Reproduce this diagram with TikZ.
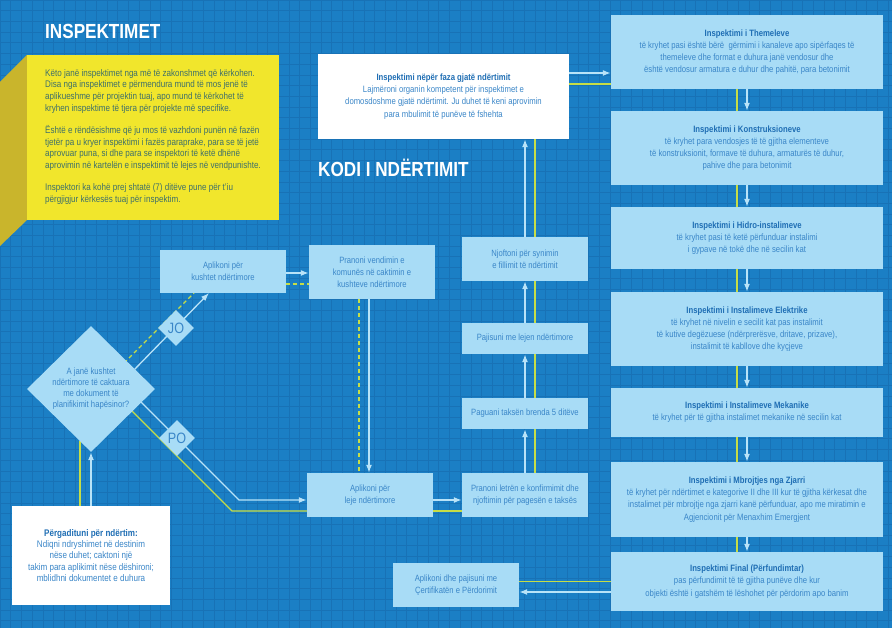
\documentclass[tikz,border=0pt]{standalone}
\usepackage{fontspec}
\setmainfont{Liberation Sans}[FakeStretch=0.84]
\usetikzlibrary{arrows.meta,shapes.geometric,calc}
\definecolor{bgc}{HTML}{1B7FC5}
\definecolor{gridc}{HTML}{1872B6}
\definecolor{lboxc}{HTML}{A8DCF6}
\definecolor{txtc}{HTML}{3A86C8}
\definecolor{ttlc}{HTML}{1F6EB4}
\definecolor{linec}{HTML}{B9E3F8}
\definecolor{grn}{HTML}{C6DD46}
\definecolor{yel}{HTML}{F1E62C}
\definecolor{olive}{HTML}{C9B52C}
\definecolor{ytxt}{HTML}{3E6F6A}
\pgfdeclarelayer{bgl}
\pgfdeclarelayer{lns}
\pgfsetlayers{bgl,lns,main}
\newcommand{\ttl}[1]{{\bfseries\color{ttlc}#1}}
\begin{document}
\begin{tikzpicture}[x=1pt,y=-1pt,
  lbox/.style={rectangle,fill=lboxc,text=txtc,align=center,inner sep=0pt},
  wbox/.style={rectangle,fill=white,text=txtc,align=center,inner sep=0pt},
  rfont/.style={font=\fontsize{9.2}{12.2}\selectfont},
  mfont/.style={font=\fontsize{9.1}{12}\selectfont},
  arr/.style={draw=linec,line width=1.3pt,-{Latex[length=8pt,width=6pt]}},
  wline/.style={draw=linec,line width=1.3pt},
  gline/.style={draw=grn,line width=1.1pt},
  gdash/.style={draw=grn,line width=1.1pt,dash pattern=on 4pt off 3pt},
  dia/.style={diamond,fill=lboxc,inner sep=0pt,aspect=1},
  heading/.style={font=\fontsize{20.4}{22}\selectfont\bfseries,text=white,inner sep=0pt,anchor=west}]
\useasboundingbox (0,0) rectangle (892,628);
\begin{pgfonlayer}{bgl}
\fill[bgc] (0,0) rectangle (892,628);
\foreach \i in {0,...,84} { \draw[gridc,line width=0.6pt] (\i*10.7,0) -- (\i*10.7,628); }
\foreach \j in {0,...,59} { \draw[gridc,line width=0.6pt] (0,\j*10.7) -- (892,\j*10.7); }
\end{pgfonlayer}

% headings
\node[heading] (h1) at (45,31) {INSPEKTIMET};
\node[heading] (h2) at (318,168) {KODI I NDËRTIMIT};

% yellow panel
\fill[olive] (27,55) -- (0,82) -- (0,246) -- (27,220) -- cycle;
\fill[yel] (27,55) rectangle (279,220);
\node[anchor=north west,inner sep=0pt,align=left,text=ytxt,font=\fontsize{9.6}{11.8}\selectfont] (ytext) at (45,69)
{Këto janë inspektimet nga më të zakonshmet që kërkohen.\\
Disa nga inspektimet e përmendura mund të mos jenë të\\
aplikueshme për projektin tuaj, apo mund të kërkohet të\\
kryhen inspektime të tjera për projekte më specifike.\\[10pt]
Është e rëndësishme që ju mos të vazhdoni punën në fazën\\
tjetër pa u kryer inspektimi i fazës paraprake, para se të jetë\\
aprovuar puna, si dhe para se inspektori të ketë dhënë\\
aprovimin në kartelën e inspektimit të lejes në vendpunishte.\\[10pt]
Inspektori ka kohë prej shtatë (7) ditëve pune për t'iu\\
përgjigjur kërkesës tuaj për inspektim.};

% white box top
\node[wbox,minimum width=251pt,minimum height=85pt,rfont] (insp) at (443.5,96.5)
{\ttl{Inspektimi nëpër faza gjatë ndërtimit}\\
Lajmëroni organin kompetent për inspektimet e\\
domosdoshme gjatë ndërtimit. Ju duhet të keni aprovimin\\
para mbulimit të punëve të fshehta};

% right column
\node[lbox,minimum width=272pt,minimum height=74pt,rfont] (b1) at (747,52)
{\ttl{Inspektimi i Themeleve}\\
të kryhet pasi është bërë\ \ gërmimi i kanaleve apo sipërfaqes të\\
themeleve dhe format e duhura janë vendosur dhe\\
është vendosur armatura e duhur dhe pahitë, para betonimit};
\node[lbox,minimum width=272pt,minimum height=74pt,rfont] (b2) at (747,148)
{\ttl{Inspektimi i Konstruksioneve}\\
të kryhet para vendosjes të të gjitha elementeve\\
të konstruksionit, formave të duhura, armaturës të duhur,\\
pahive dhe para betonimit};
\node[lbox,minimum width=272pt,minimum height=62pt,rfont] (b3) at (747,238)
{\ttl{Inspektimi i Hidro-instalimeve}\\
të kryhet pasi të ketë përfunduar instalimi\\
i gypave në tokë dhe në secilin kat};
\node[lbox,minimum width=272pt,minimum height=74pt,rfont] (b4) at (747,329)
{\ttl{Inspektimi i Instalimeve Elektrike}\\
të kryhet në nivelin e secilit kat pas instalimit\\
të kutive degëzuese (ndërprerësve, dritave, prizave),\\
instalimit të kabllove dhe kyçjeve};
\node[lbox,minimum width=272pt,minimum height=49pt,rfont] (b5) at (747,412.5)
{\ttl{Inspektimi i Instalimeve Mekanike}\\
të kryhet për të gjitha instalimet mekanike në secilin kat};
\node[lbox,minimum width=272pt,minimum height=75pt,rfont] (b6) at (747,499.5)
{\ttl{Inspektimi i Mbrojtjes nga Zjarri}\\
të kryhet për ndërtimet e kategorive II dhe III kur të gjitha kërkesat dhe\\
instalimet për mbrojtje nga zjarri kanë përfunduar, apo me miratimin e\\
Agjencionit për Menaxhim Emergjent};
\node[lbox,minimum width=272pt,minimum height=59pt,rfont] (b7) at (747,581.5)
{\ttl{Inspektimi Final (Përfundimtar)}\\
pas përfundimit të të gjitha punëve dhe kur\\
objekti është i gatshëm të lëshohet për përdorim apo banim};

% middle column
\node[lbox,minimum width=126pt,minimum height=44pt,mfont] (njoft) at (525,259)
{Njoftoni për synimin\\e fillimit të ndërtimit};
\node[lbox,minimum width=126pt,minimum height=31pt,mfont] (pajis) at (525,338.5)
{Pajisuni me lejen ndërtimore};
\node[lbox,minimum width=126pt,minimum height=31pt,mfont] (pagua) at (525,413.5)
{Paguani taksën brenda 5 ditëve};
\node[lbox,minimum width=126pt,minimum height=44pt,mfont] (letren) at (525,495)
{Pranoni letrën e konfirmimit dhe\\njoftimin për pagesën e taksës};

\node[lbox,minimum width=126pt,minimum height=54pt,mfont] (vend) at (372,272)
{Pranoni vendimin e\\komunës në caktimin e\\kushteve ndërtimore};
\node[lbox,minimum width=126pt,minimum height=44pt,mfont] (leje) at (370,495)
{Aplikoni për\\leje ndërtimore};
\node[lbox,minimum width=126pt,minimum height=43pt,mfont] (kusht) at (223,271.5)
{Aplikoni për\\kushtet ndërtimore};
\node[lbox,minimum width=126pt,minimum height=44pt,mfont] (cert) at (456,585)
{Aplikoni dhe pajisuni me\\Çertifikatën e Përdorimit};

% decision
\node[dia,minimum width=128pt,minimum height=126pt] (dq) at (91,389) {};
\node[inner sep=0pt,align=center,text=txtc,font=\fontsize{9.2}{11}\selectfont] (dqt) at (91,389)
{A janë kushtet\\ndërtimore të caktuara\\me dokument të\\planifikimit hapësinor?};
\node[dia,minimum width=36pt,minimum height=36pt,text=txtc,font=\fontsize{15}{15}\selectfont] (jo) at (176,328) {JO};
\node[dia,minimum width=36pt,minimum height=36pt,text=txtc,font=\fontsize{15}{15}\selectfont] (po) at (177,438) {PO};

% preparation box
\node[wbox,minimum width=158pt,minimum height=99pt,font=\fontsize{9.6}{11.3}\selectfont] (prep) at (91,555.5)
{\ttl{Përgadituni për ndërtim:}\\
Ndiqni ndryshimet në destinim\\
nëse duhet; caktoni një\\
takim para aplikimit nëse dëshironi;\\
mblidhni dokumentet e duhura};

% connector coordinates
\coordinate (joA) at (133,371);
\coordinate (joB) at (209,293);
\coordinate (jgA) at (124,363);
\coordinate (jgB) at (194,293);
\coordinate (poA) at (140,401);
\coordinate (poB) at (239,500);
\coordinate (pgA) at (131,410);
\coordinate (pgB) at (232,511);
\coordinate (prg) at (80,441);

\begin{pgfonlayer}{lns}
% right column
\draw[gline] ([xshift=-10pt]b1.south) -- ([xshift=-10pt]b7.north);
\draw[arr] (b1.south) -- (b2.north);
\draw[arr] (b2.south) -- (b3.north);
\draw[arr] (b3.south) -- (b4.north);
\draw[arr] (b4.south) -- (b5.north);
\draw[arr] (b5.south) -- (b6.north);
\draw[arr] (b6.south) -- (b7.north);
% top box to right column
\draw[arr] ([yshift=23.5pt]insp.east) -- ([yshift=23.5pt]insp.east -| b1.west);
\draw[gline] ([yshift=12.5pt]insp.east) -- ([yshift=12.5pt]insp.east -| b1.west);
% middle column
\draw[gline] ([xshift=10pt]letren.north) -- ([xshift=10pt]letren.north |- insp.south);
\draw[arr] (letren.north) -- (pagua.south);
\draw[arr] (pagua.north) -- (pajis.south);
\draw[arr] (pajis.north) -- (njoft.south);
\draw[arr] (njoft.north) -- (njoft.north |- insp.south);
% leje to letren
\draw[arr] ([yshift=-5pt]leje.east) -- ([yshift=-5pt]leje.east -| letren.west);
\draw[gline] ([yshift=-16pt]leje.east) -- ([yshift=-16pt]leje.east -| letren.west);
% vendimin to leje
\draw[arr] ([xshift=-3pt]vend.south) -- ([xshift=-3pt]vend.south |- leje.north);
\draw[gdash] ([xshift=-13pt]vend.south) -- ([xshift=-13pt]vend.south |- leje.north);
% kushtet to vendimin
\draw[arr] ([yshift=-1.5pt]kusht.east) -- ([yshift=-1.5pt]kusht.east -| vend.west);
\draw[gdash] ([yshift=-12.5pt]kusht.east) -- ([yshift=-12.5pt]kusht.east -| vend.west);
% JO branch
\draw[arr] (joA) -- (joB);
\draw[gdash] (jgA) -- (jgB);
% PO branch
\draw[wline,-{Latex[length=8pt,width=6pt]}] (poA) -- (poB) -- ([yshift=-5pt]leje.west);
\draw[gline] (pgA) -- (pgB) -- ([yshift=-16pt]leje.west);
% preparation to decision
\draw[arr] (prep.north) -- (dq.south);
\draw[gline] ([xshift=-11pt]prep.north) -- (prg);
% final to certificate
\draw[arr] ([yshift=-10.5pt]b7.west) -- ([yshift=-10.5pt]b7.west -| cert.east);
\draw[gline] (b7.west) -- (b7.west -| cert.east);
\end{pgfonlayer}
\end{tikzpicture}
\end{document}
